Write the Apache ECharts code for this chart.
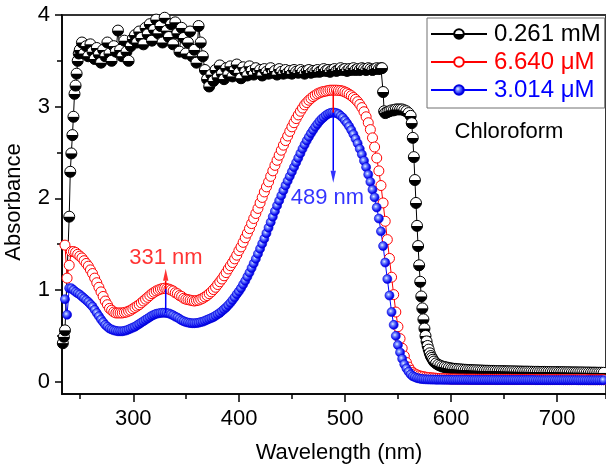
<!DOCTYPE html>
<html><head><meta charset="utf-8">
<script src="https://cdn.jsdelivr.net/npm/echarts@6/dist/echarts.min.js"></script>
<style>html,body{margin:0;padding:0;background:#fff}#c{width:606px;height:468px}</style>
</head><body><div id="c"></div>
<script>
// ---- data (absorbance) ----
const seriesNames = ['0.261 mM', '6.640 \u03bcM', '3.014 \u03bcM'];
const xTicks = [300, 400, 500, 600, 700];
const yTicks = [0, 1, 2, 3, 4];

// red & blue sampled every 2 nm from 236 nm
const gridStart = 236, gridStep = 2;
const redAbs = [
1.49,1.13,1.27,1.42,1.42,1.41,1.39,1.37,1.35,1.32,
1.29,1.26,1.22,1.18,1.13,1.08,1.03,0.98,0.93,0.88,
0.84,0.80,0.78,0.76,0.75,0.75,0.75,0.75,0.755,0.76,
0.77,0.78,0.795,0.81,0.825,0.84,0.86,0.88,0.90,0.92,
0.94,0.96,0.975,0.99,1.00,1.01,1.015,1.02,1.015,1.01,
1.00,0.99,0.97,0.96,0.94,0.93,0.91,0.90,0.895,0.89,
0.885,0.88,0.885,0.89,0.90,0.91,0.925,0.94,0.96,0.98,
1.005,1.03,1.06,1.09,1.12,1.155,1.19,1.23,1.265,1.30,
1.34,1.38,1.43,1.47,1.52,1.57,1.62,1.67,1.725,1.78,
1.835,1.89,1.95,2.01,2.07,2.125,2.18,2.24,2.30,2.36,
2.415,2.47,2.525,2.58,2.63,2.68,2.73,2.78,2.825,2.87,
2.91,2.95,2.985,3.02,3.045,3.07,3.09,3.11,3.125,3.14,
3.15,3.16,3.165,3.17,3.175,3.18,3.18,3.18,3.18,3.178,
3.175,3.17,3.16,3.15,3.135,3.12,3.10,3.08,3.055,3.025,
2.99,2.945,2.89,2.825,2.75,2.66,2.56,2.44,2.30,2.14,
1.95,1.75,1.55,1.345,1.14,0.95,0.76,0.60,0.47,0.365,
0.28,0.21,0.16,0.125,0.10,0.085,0.075,0.065,0.06,0.055,
0.05,0.047,0.045,0.042,0.04,0.038,0.036,0.035,0.034,0.033,
0.032,0.031,0.030,0.030,0.030,0.029,0.029,0.029,0.029,0.028,
0.028,0.028,0.028,0.028,0.027,0.027,0.027,0.027,0.027,0.027,
0.027,0.026,0.026,0.026,0.026,0.026,0.026,0.026,0.026,0.026,
0.026,0.025,0.025,0.025,0.025,0.025,0.025,0.025,0.025,0.025,
0.025,0.025,0.025,0.024,0.024,0.024,0.024,0.024,0.024,0.024,
0.024,0.024,0.024,0.024,0.024,0.023,0.023,0.023,0.023,0.023,
0.023,0.023,0.023,0.023,0.023,0.023,0.023,0.022,0.022,0.022,
0.022,0.022,0.022,0.022,0.022];
const blueAbs = [
0.90,0.73,1.02,1.02,1.00,0.98,0.965,0.95,0.93,0.91,
0.89,0.87,0.845,0.82,0.785,0.75,0.715,0.68,0.65,0.62,
0.60,0.58,0.57,0.56,0.555,0.55,0.55,0.55,0.555,0.56,
0.57,0.58,0.59,0.60,0.615,0.63,0.645,0.66,0.675,0.69,
0.705,0.72,0.73,0.74,0.745,0.75,0.752,0.752,0.75,0.745,
0.735,0.725,0.71,0.70,0.685,0.67,0.66,0.65,0.645,0.64,
0.638,0.638,0.64,0.643,0.65,0.655,0.665,0.675,0.685,0.695,
0.705,0.72,0.735,0.75,0.77,0.79,0.81,0.835,0.86,0.89,
0.92,0.955,0.985,1.02,1.06,1.10,1.145,1.19,1.24,1.29,
1.34,1.395,1.45,1.505,1.56,1.62,1.68,1.74,1.80,1.86,
1.92,1.975,2.03,2.085,2.14,2.19,2.24,2.29,2.34,2.39,
2.44,2.49,2.54,2.585,2.63,2.67,2.71,2.745,2.78,2.81,
2.84,2.865,2.885,2.905,2.92,2.93,2.935,2.935,2.93,2.92,
2.90,2.88,2.85,2.82,2.785,2.745,2.70,2.65,2.60,2.54,
2.48,2.41,2.34,2.26,2.18,2.095,2.01,1.90,1.78,1.64,
1.48,1.30,1.12,0.94,0.76,0.62,0.50,0.40,0.32,0.25,
0.19,0.145,0.11,0.08,0.06,0.05,0.04,0.035,0.03,0.028,
0.026,0.025,0.024,0.023,0.023,0.022,0.022,0.022,0.021,0.021,
0.021,0.021,0.020,0.020,0.020,0.020,0.020,0.020,0.020,0.020,
0.020,0.019,0.019,0.019,0.019,0.019,0.019,0.019,0.019,0.019,
0.019,0.019,0.019,0.018,0.018,0.018,0.018,0.018,0.018,0.018,
0.018,0.018,0.018,0.018,0.018,0.018,0.018,0.018,0.018,0.018,
0.018,0.018,0.017,0.017,0.017,0.017,0.017,0.017,0.017,0.017,
0.017,0.017,0.017,0.017,0.017,0.017,0.017,0.017,0.017,0.017,
0.017,0.017,0.016,0.016,0.016,0.016,0.016,0.016,0.016,0.016,
0.016,0.016,0.016,0.016,0.016];

// black (0.261 mM) in pieces
const blackEdgeWl  = [234,235,236,240,241,242,243,244,245,246,247,248,249,250];
const blackEdgeAbs = [0.42,0.49,0.56,1.80,2.29,2.49,2.69,2.89,3.14,3.23,3.36,3.50,3.58,3.62];
const blackPlateauStart = 252, blackPlateauStep = 2;
const blackPlateauAbs = [
3.70,3.58,3.66,3.55,3.68,3.60,3.52,3.64,3.57,3.48,
3.62,3.55,3.70,3.58,3.50,3.66,3.60,3.83,3.62,3.55,
3.72,3.60,3.50,3.66,3.74,3.78,3.70,3.82,3.75,3.68,
3.86,3.79,3.90,3.72,3.84,3.95,3.80,3.88,3.70,3.97,
3.83,3.76,3.90,3.68,3.92,3.80,3.60,3.86,3.75,3.58,
3.70,3.82,3.55,3.62,3.48,3.88,3.70,3.55,3.40,3.30,
3.22,3.35,3.28,
3.40,3.32,3.45,3.36,3.30,3.42,3.35,3.44,3.33,3.40,
3.46,3.37,3.31,3.43,3.38,3.34,3.44,3.39,3.35,3.42,
3.37,3.40,3.34,3.41,3.38,3.36,3.42,3.37,3.39,3.35,
3.41,3.38,3.36,3.40,3.37,3.39,3.36,3.40,3.38,3.37,
3.40,3.38,3.36,3.39,3.40,3.37,3.39,3.38,3.40,3.38,
3.39,3.41,3.39,3.40,3.38,3.40,3.41,3.39,3.40,3.42,
3.40,3.41,3.39,3.41,3.40,3.42,3.40,3.41,3.40,3.42,
3.41,3.40,3.42,3.41,3.40,3.41,3.42,3.41,3.42];
const blackDropWl  = [535,536,537,538,540,542,544,546,548,550,552,554,556,558,560,562,563,564,565,566,567,568,569,570,571,572,573,574,575,576,577,578,579,580,581,582,583,584];
const blackDropAbs = [3.42,3.16,2.95,2.93,2.94,2.95,2.96,2.96,2.97,2.97,2.97,2.97,2.96,2.95,2.93,2.90,2.82,2.66,2.45,2.20,1.95,1.70,1.48,1.27,1.09,0.93,0.80,0.68,0.58,0.50,0.44,0.39,0.35,0.31,0.28,0.26,0.24,0.22];
const blackTailStart = 586, blackTailStep = 2;
const blackTailAbs = [
0.20,0.185,0.175,0.165,0.16,0.155,0.15,0.145,0.142,0.14,
0.137,0.135,0.133,0.131,0.13,0.128,0.127,0.126,0.125,0.124,
0.123,0.122,0.121,0.12,0.12,0.119,0.118,0.118,0.117,0.116,
0.116,0.115,0.115,0.114,0.114,0.113,0.113,0.112,0.112,0.111,
0.111,0.11,0.11,0.11,0.109,0.109,0.108,0.108,0.108,0.107,
0.107,0.107,0.106,0.106,0.106,0.105,0.105,0.105,0.104,0.104,
0.104,0.103,0.103,0.103,0.102,0.102,0.102,0.101,0.101,0.101,
0.100,0.100,0.100,0.099,0.099,0.099,0.098,0.098,0.098,0.097];

// peak annotations
const uvArrow  = {wl: 331, low: 0.75, mid: 1.01, base: 1.10};
const visArrow = {wl: 489, top: 3.18, mid: 2.935, base: 2.30};
const annoLabels = [
  {wl: 331.2, abs: 1.355, text: '331 nm', color: '#ff0000'},
  {wl: 483.5, abs: 2.0, text: '489 nm', color: '#0000ff'}
];

// ---- build ----
const FONT = '"Liberation Sans", Arial, sans-serif';
const regular = (start, step, arr) => arr.map((v, i) => [start + i * step, v]);
const paired = (xs, ys) => xs.map((x, i) => [x, ys[i]]);
const blackData = [].concat(
  paired(blackEdgeWl, blackEdgeAbs),
  regular(blackPlateauStart, blackPlateauStep, blackPlateauAbs),
  paired(blackDropWl, blackDropAbs),
  regular(blackTailStart, blackTailStep, blackTailAbs));
const redData = regular(gridStart, gridStep, redAbs);
const blueData = regular(gridStart, gridStep, blueAbs);

const chart = echarts.init(document.getElementById('c'), null, {renderer: 'canvas'});
const XMIN = 233.2, XMAX = 746.2;
const tickLine = {color: '#000', width: 1.5};
const labelStyle = {fontFamily: FONT, fontSize: 22, color: '#000'};

const halfBlack = new echarts.graphic.LinearGradient(0, 0, 0, 1, [
  {offset: 0, color: '#ffffff'}, {offset: 0.47, color: '#ffffff'},
  {offset: 0.53, color: '#000000'}, {offset: 1, color: '#000000'}]);
const blueBall = new echarts.graphic.RadialGradient(0.4, 0.4, 0.6, [
  {offset: 0, color: '#e6eeff'}, {offset: 0.3, color: '#6f86ff'},
  {offset: 0.75, color: '#1010f0'}, {offset: 1, color: '#0000c8'}]);

const seg = (color, pts) => ({type: 'line', data: pts, symbol: 'none', silent: true,
  lineStyle: {color: color, width: 1.5}, xAxisIndex: 0, yAxisIndex: 0, z: 5, animation: false});

const option = {
  animation: false,
  backgroundColor: '#ffffff',
  grid: [
    {left: 62, right: -3, top: 15, bottom: 74, show: true, borderColor: '#333', borderWidth: 2, backgroundColor: 'transparent'},
    {left: 62, right: -3, top: 15, bottom: 86.3},
    {left: 133.25, right: -3, top: 15, bottom: 74},
    {left: 79.9, right: -3, top: 15, bottom: 74}
  ],
  xAxis: [
    {gridIndex: 0, type: 'value', min: XMIN, max: XMAX,
     axisLine: {show: true, onZero: false, lineStyle: tickLine}, axisTick: {show: false},
     axisLabel: {show: false}, splitLine: {show: false}},
    {gridIndex: 1, type: 'value', show: false, min: XMIN, max: XMAX},
    {gridIndex: 2, type: 'value', min: xTicks[0], max: XMAX, interval: 100,
     axisLine: {show: false}, axisTick: {show: true, length: 8, lineStyle: tickLine},
     axisLabel: Object.assign({margin: 14, showMaxLabel: false,
       formatter: v => xTicks.indexOf(v) >= 0 ? String(v) : ''}, labelStyle),
     splitLine: {show: false}},
    {gridIndex: 3, type: 'value', min: 250, max: XMAX, interval: 100,
     axisLine: {show: false}, axisTick: {show: true, length: 5, lineStyle: tickLine},
     axisLabel: {show: false}, splitLine: {show: false}}
  ],
  yAxis: [
    {gridIndex: 0, type: 'value', min: -0.134, max: 4,
     axisLine: {show: true, onZero: false, lineStyle: tickLine}, axisTick: {show: false},
     axisLabel: {show: false}, splitLine: {show: false}},
    {gridIndex: 1, type: 'value', min: yTicks[0], max: yTicks[yTicks.length - 1], interval: 1,
     axisLine: {show: false}, axisTick: {show: true, length: 7, lineStyle: tickLine},
     minorTick: {show: true, splitNumber: 2, length: 5, lineStyle: tickLine},
     axisLabel: Object.assign({margin: 12}, labelStyle), splitLine: {show: false}},
    {gridIndex: 2, type: 'value', show: false},
    {gridIndex: 3, type: 'value', show: false}
  ],
  legend: {
    orient: 'vertical', left: 427, top: 18, padding: [4, 4, 6, 3], itemGap: 4,
    itemWidth: 56, itemHeight: 12, borderColor: '#707070', borderWidth: 1,
    selectedMode: false,
    textStyle: {fontFamily: FONT, fontSize: 24, padding: [0, 0, 0, 2]},
    data: [
      {name: seriesNames[0], textStyle: {color: '#000000'}},
      {name: seriesNames[1], textStyle: {color: '#ff0000'}},
      {name: seriesNames[2], textStyle: {color: '#0000ff'}}
    ]
  },
  graphic: [
    {type: 'text', x: 339, y: 453, style: {text: 'Wavelength (nm)', fontFamily: FONT, fontSize: 22, fill: '#000', align: 'center', verticalAlign: 'middle'}},
    {type: 'text', x: 14, y: 202, rotation: Math.PI / 2, style: {text: 'Absorbance', fontFamily: FONT, fontSize: 22, fill: '#000', align: 'center', verticalAlign: 'middle'}},
    {type: 'text', x: 509, y: 131.5, style: {text: 'Chloroform', fontFamily: FONT, fontSize: 22, fill: '#000', align: 'center', verticalAlign: 'middle'}}
  ],
  series: [
    {name: seriesNames[0], type: 'line', data: blackData, xAxisIndex: 0, yAxisIndex: 0,
     symbol: 'circle', symbolSize: 11, showSymbol: true, showAllSymbol: true, silent: true,
     lineStyle: {color: '#000', width: 1}, itemStyle: {color: halfBlack, borderColor: '#000', borderWidth: 1}},
    {name: seriesNames[1], type: 'line', data: redData, xAxisIndex: 0, yAxisIndex: 0,
     symbol: 'circle', symbolSize: 10, showSymbol: true, showAllSymbol: true, silent: true,
     lineStyle: {color: '#ff0000', width: 1}, itemStyle: {color: '#ffffff', borderColor: '#ff0000', borderWidth: 1}},
    {name: seriesNames[2], type: 'line', data: blueData, xAxisIndex: 0, yAxisIndex: 0,
     symbol: 'circle', symbolSize: 9, showSymbol: true, showAllSymbol: true, silent: true,
     lineStyle: {color: '#0000ff', width: 1}, itemStyle: {color: blueBall, borderColor: '#0000e0', borderWidth: 0.6}},
    seg('#0000ff', [[uvArrow.wl, uvArrow.low], [uvArrow.wl, uvArrow.mid]]),
    seg('#ff0000', [[uvArrow.wl, uvArrow.mid], [uvArrow.wl, uvArrow.base]]),
    seg('#ff0000', [[visArrow.wl, visArrow.top], [visArrow.wl, visArrow.mid]]),
    seg('#0000ff', [[visArrow.wl, visArrow.mid], [visArrow.wl, visArrow.base]]),
    {type: 'scatter', silent: true, z: 6, xAxisIndex: 0, yAxisIndex: 0,
     data: [[uvArrow.wl, uvArrow.base]], symbol: 'path://M0,12L4,0L8,12Z', symbolKeepAspect: true,
     symbolSize: [8, 12], symbolOffset: [0, '-50%'], itemStyle: {color: '#ff0000'}},
    {type: 'scatter', silent: true, z: 6, xAxisIndex: 0, yAxisIndex: 0,
     data: [[visArrow.wl, visArrow.base]], symbol: 'path://M0,0L8,0L4,12Z', symbolKeepAspect: true,
     symbolSize: [8, 12], symbolOffset: [0, '50%'], itemStyle: {color: '#0000ff'}},
    ...annoLabels.map(a => ({type: 'scatter', silent: true, z: 7, xAxisIndex: 0, yAxisIndex: 0,
      data: [[a.wl, a.abs]], symbolSize: 1, itemStyle: {color: 'rgba(0,0,0,0)'},
      label: {show: true, position: 'inside', formatter: a.text, fontFamily: FONT, fontSize: 22, color: a.color}}))
  ]
};
chart.setOption(option);
</script></body></html>
